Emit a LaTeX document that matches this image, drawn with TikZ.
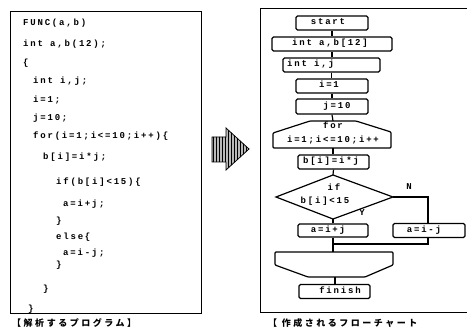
\documentclass[tikz,border=0pt]{standalone}
\usepackage{fontspec}
\usetikzlibrary{patterns}
\newfontfamily\codefont{Liberation Mono}[LetterSpace=20]
\newfontfamily\cjkfont{Noto Sans CJK JP}[LetterSpace=28]
\tikzset{
  code/.style={font=\codefont\bfseries\fontsize{9}{10}\selectfont, inner sep=0pt, text height=5.5pt, text depth=1.5pt},
  cl/.style={code, anchor=west},
  fbox/.style={draw, line width=1.2pt, rounded corners=1.5pt, inner sep=0pt, minimum height=14pt},
  conn/.style={line width=1.2pt},
  frame/.style={line width=1pt},
  lab/.style={font=\cjkfont\bfseries\fontsize{9}{10}\selectfont, inner sep=0pt, anchor=west}
}
\begin{document}
\begin{tikzpicture}[x=1pt,y=-1pt]
\useasboundingbox (0,0) rectangle (467,331);
% left frame with program
\draw[frame] (10,12) rectangle (201,314);
\node[cl] (c1) at (23,24) {FUNC(a,b)};
\node[cl] (c2) at (23,45) {int a,b(12);};
\node[cl] (c3) at (23,64) {\{};
\node[cl] (c4) at (33,82) {int i,j;};
\node[cl] (c5) at (33,101) {i=1;};
\node[cl] (c6) at (33,119) {j=10;};
\node[cl] (c7) at (33,137) {for(i=1;i<=10;i++)\{};
\node[cl] (c8) at (43,158) {b[i]=i*j;};
\node[cl] (c9) at (56,183) {if(b[i]<15)\{};
\node[cl] (c10) at (63,205) {a=i+j;};
\node[cl] (c11) at (56,222) {\}};
\node[cl] (c12) at (56,238) {else\{};
\node[cl] (c13) at (63,254) {a=i-j;};
\node[cl] (c14) at (56,266) {\}};
\node[cl] (c15) at (43,290) {\}};
\node[cl] (c16) at (28,310) {\}};
\node[lab] (lab1) at (12,323) {【解析するプログラム】};
% block arrow
\fill[gray!55] (212,137) -- (226,137) -- (226,128) -- (249,149) -- (226,170) -- (226,162) -- (212,162) -- cycle;
\fill[pattern=vertical lines, pattern color=black] (212,137) -- (226,137) -- (226,128) -- (249,149) -- (226,170) -- (226,162) -- (212,162) -- cycle;
\draw[line width=0.8pt] (212,137) -- (226,137) -- (226,128) -- (249,149) -- (226,170) -- (226,162) -- (212,162) -- cycle;
% right frame
\draw[frame] (468,9) -- (260,9) -- (260,313) -- (468,313);
\node[lab] (lab2) at (268,323) {【\ 作成されるフローチャート};
% flowchart boxes
\node[fbox, minimum width=72pt] (start) at (332,23) {};
\node[code] (startt) at (328,23) {start};
\node[fbox, minimum width=120pt] (inta) at (332,44) {};
\node[code] (intat) at (330,44) {int a,b[12]};
\node[fbox, minimum width=97pt] (intij) at (331.5,65) {};
\node[cl] (intijt) at (287,65) {int i,j};
\node[fbox, minimum width=72pt] (ione) at (332,86) {};
\node[code] (ionet) at (329,86) {i=1};
\node[fbox, minimum width=72pt, minimum height=15pt] (jten) at (332,106.5) {};
\node[code] (jtent) at (337,106.5) {j=10};
% for loop start
\draw[line width=1.2pt, rounded corners=1pt] (310,121) -- (356,121) -- (391,132) -- (391,148) -- (273,148) -- (273,133) -- cycle;
\coordinate (fortop) at (333,121);
\coordinate (forbot) at (333,148);
\node[code] (fort) at (333,127) {for};
\node[code] (fort2) at (333,141) {i=1;i<=10;i++};
\node[fbox, minimum width=71pt] (bij) at (333.5,162) {};
\node[code] (bijt) at (331,162) {b[i]=i*j};
% decision
\coordinate (dtop) at (333,175);
\coordinate (dleft) at (276,197);
\coordinate (dright) at (393,197);
\coordinate (dbot) at (333,219);
\draw[line width=1.2pt] (dtop) -- (dright) -- (dbot) -- (dleft) -- cycle;
\node[code] (ift) at (334,189) {if};
\node[code] (ift2) at (325,202) {b[i]<15};
\node[code] (ylab) at (362,214) {Y};
\node[code] (nlab) at (409,188) {N};
\node[fbox, minimum width=70pt, minimum height=13pt] (ayes) at (333,230.5) {};
\node[code] (ayest) at (328,230.5) {a=i+j};
\node[fbox, minimum width=72pt] (ano) at (429,230.5) {};
\node[code] (anot) at (424,230.5) {a=i-j};
% loop end
\draw[line width=1.2pt, rounded corners=1pt] (275,252) -- (393,252) -- (393,265) -- (365,277) -- (308,277) -- (275,265) -- cycle;
\coordinate (ltop) at (333,252);
\coordinate (lbot) at (335,277);
\coordinate (ncorner) at (428,197);
\coordinate (mright) at (428,244);
\coordinate (mleft) at (333,244);
\node[fbox, minimum width=71pt] (finish) at (334.5,291.5) {};
\node[code] (finisht) at (340,291.5) {finish};
% connectors
\draw[conn] (start.south) -- (start.south |- inta.north);
\draw[conn] (inta.south) -- (inta.south |- intij.north);
\draw[conn] (intij.south) -- (intij.south |- ione.north);
\draw[conn] (ione.south) -- (ione.south |- jten.north);
\draw[conn] (jten.south) -- (fortop);
\draw[conn] (forbot) -- (forbot |- bij.north);
\draw[conn] (bij.south) -- (dtop);
\draw[conn] (dbot) -- (dbot |- ayes.north);
\draw[conn] (dright) -- (ncorner) -- (ncorner |- ano.north);
\draw[conn] (ayes.south) -- (ayes.south |- ltop);
\draw[conn] (ano.south -| mright) -- (mright) -- (mleft);
\draw[conn] (lbot) -- (lbot |- finish.north);
\end{tikzpicture}
\end{document}
